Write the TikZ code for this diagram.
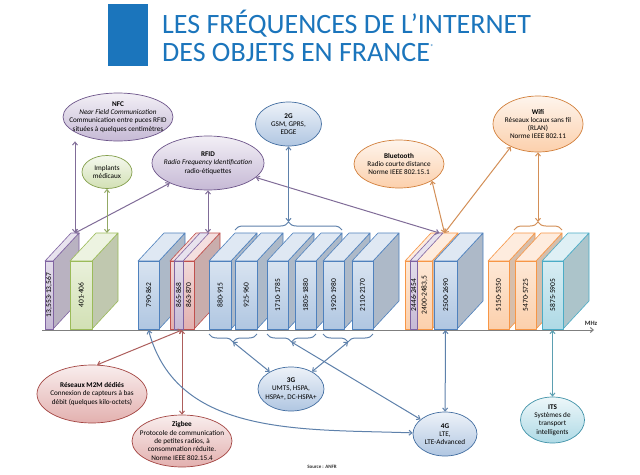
\documentclass[tikz,border=0pt]{standalone}
\usepackage{fontspec}
\setmainfont{Carlito}
\newfontfamily\titlefont{Carlito}
\usetikzlibrary{shapes.geometric,arrows.meta,decorations.pathreplacing}

\definecolor{titleblue}{HTML}{1B75BC}
\definecolor{nfcC}{HTML}{8064A2}
\definecolor{medC}{HTML}{9BBB59}
\definecolor{cellC}{HTML}{4F81BD}
\definecolor{ismC}{HTML}{C0504D}
\definecolor{wlanC}{HTML}{F79646}
\definecolor{itsC}{HTML}{4BACC6}
\definecolor{axisC}{HTML}{7F7F7F}

\tikzset{
        bandfront/.style={draw=#1, top color=#1!22!white, bottom color=#1!45!white, line width=0.6pt, line join=round},
        bandtop/.style={draw=#1, fill=#1!18!white, line width=0.6pt, line join=round},
        bandside/.style={draw=#1, fill=#1!45!gray!55!white, line width=0.6pt, line join=round},
        bandlabel/.style={rotate=90, inner sep=0pt, font=\fontsize{7.5}{7.5}\selectfont},
        bubble/.style={ellipse, draw=#1!85!black, line width=0.7pt, top color=#1!10!white, bottom color=#1!45!white, inner sep=0pt},
        btext/.style={align=center, inner sep=0pt, font=\fontsize{7.2}{8.3}\selectfont},
        link/.style={<->, >={Straight Barb[length=3pt,width=5pt]}, draw=#1!70!gray, line width=1pt},
        freqbrace/.style={decorate, decoration={brace, amplitude=8pt}, draw=#1!70!gray, line width=1pt}
}

\newcommand\FreqBand[4]{%
        \draw[bandside=#3] (#1+#2,-261) -- ++(26,28) -- ++(0,-68) -- (#1+#2,-329) -- cycle;
        \draw[bandtop=#3] (#1,-261) -- ++(26,28) -- ++(#2,0) -- (#1+#2,-261) -- cycle;
        \draw[bandfront=#3] (#1,-329) rectangle (#1+#2,-261);
        \coordinate (#4top) at (#1+#2/2+26,-233);
        \coordinate (#4bot) at (#1+#2/2,-330);}

\newcommand\FreqInset[4]{%
        \draw[bandtop=#3] (#1,-261) -- ++(26,28) -- ++(#2,0) -- (#1+#2,-261) -- cycle;
        \draw[bandfront=#3] (#1,-329) rectangle (#1+#2,-261);
        \coordinate (#4top) at (#1+#2/2+26,-233);}

\begin{document}
\begin{tikzpicture}[x=1pt,y=1pt]
        \useasboundingbox (0,0) rectangle (640,-474);
        \fill[white] (0,0) rectangle (640,-474);
        \fill[titleblue] (108,-4) rectangle (148,-66);
        \node[anchor=base west, inner sep=0pt, text=titleblue, font={\titlefont\fontsize{28}{28}\selectfont}] (title1) at (162,-33) {LES FRÉQUENCES DE L’INTERNET};
        \node[anchor=base west, inner sep=0pt, text=titleblue, font={\titlefont\fontsize{28}{28}\selectfont}] (title2) at (162,-61) {DES OBJETS EN FRANCE\raisebox{12pt}{\fontsize{7}{7}\selectfont*}};

        \FreqBand{45}{8}{nfcC}{b13}
        \FreqBand{70}{22}{medC}{b401}
        \FreqBand{138}{21}{cellC}{b790}
        \FreqBand{170}{24}{ismC}{b863}
        \FreqInset{174}{9}{nfcC}{b865}
        \FreqBand{209}{22}{cellC}{b880}
        \FreqBand{235}{22}{cellC}{b925}
        \FreqBand{267}{21}{cellC}{b1710}
        \FreqBand{295}{21}{cellC}{b1805}
        \FreqBand{323}{21}{cellC}{b1920}
        \FreqBand{352}{21}{cellC}{b2110}
        \FreqBand{405}{27}{wlanC}{b2400}
        \FreqInset{410}{7}{nfcC}{b2446}
        \FreqBand{434}{23}{cellC}{b2500}
        \FreqBand{488}{21}{wlanC}{b5150}
        \FreqBand{515}{21}{wlanC}{b5470}
        \FreqBand{542}{21}{itsC}{b5875}

        \node[bandlabel] (l13) at (49,-295) {13,553-13,567};
        \node[bandlabel] (l401) at (81,-295) {401-406};
        \node[bandlabel] (l790) at (148.5,-295) {790-862};
        \node[bandlabel] (l865) at (178.5,-295) {865-868};
        \node[bandlabel] (l863) at (188.5,-295) {863-870};
        \node[bandlabel] (l880) at (220,-295) {880-915};
        \node[bandlabel] (l925) at (246,-295) {925-960};
        \node[bandlabel] (l1710) at (277.5,-295) {1710-1785};
        \node[bandlabel] (l1805) at (305.5,-295) {1805-1880};
        \node[bandlabel] (l1920) at (333.5,-295) {1920-1980};
        \node[bandlabel] (l2110) at (362.5,-295) {2110-2170};
        \node[bandlabel] (l2446) at (413.5,-295) {2446-2454};
        \node[bandlabel] (l2400) at (424.5,-295) {2400-2483,5};
        \node[bandlabel] (l2500) at (445.5,-295) {2500-2690};
        \node[bandlabel] (l5150) at (498.5,-295) {5150-5350};
        \node[bandlabel] (l5470) at (525.5,-295) {5470-5725};
        \node[bandlabel] (l5875) at (552.5,-295) {5875-5905};

        \draw[axisC, line width=1pt, -{Straight Barb[length=3pt,width=5pt]}] (42,-330) -- (594,-330);
        \node[font=\fontsize{6.5}{6.5}\selectfont\bfseries, text=black!80] (mhz) at (591,-323) {MHz};

        \draw[freqbrace=cellC] (235,-230) -- (342,-230);
        \draw[freqbrace=wlanC] (514,-230) -- (562,-230);
        \draw[freqbrace=cellC] (257,-334) -- (209,-334);
        \draw[freqbrace=cellC] (316,-334) -- (267,-334);
        \draw[freqbrace=cellC] (373,-334) -- (323,-334);
        \coordinate (tip2g) at (288.5,-222);
        \coordinate (tip5g) at (538,-222);
        \coordinate (tip3a) at (233,-342);
        \coordinate (tip3b) at (291.5,-342);
        \coordinate (tip3c) at (348,-342);

        \node[bubble=nfcC, minimum width=110, minimum height=48, label={[btext]center:{\textbf{NFC}\\\textit{Near Field Communication}\\Communication entre puces RFID\\situées à quelques centimètres}}] (nfc) at (118,-117) {};
        \node[bubble=medC, minimum width=50, minimum height=33, label={[btext]center:{Implants\\médicaux}}] (implant) at (107,-172) {};
        \node[bubble=nfcC, minimum width=112, minimum height=54, label={[btext]center:{\textbf{RFID}\\\textit{Radio Frequency Identification}\\radio-étiquettes}}] (rfid) at (208,-163) {};
        \node[bubble=cellC, minimum width=66, minimum height=44, label={[btext]center:{\textbf{2G}\\GSM, GPRS,\\EDGE}}] (g2) at (288.5,-124) {};
        \node[bubble=wlanC, minimum width=90, minimum height=48, label={[btext]center:{\textbf{Bluetooth}\\Radio courte distance\\Norme IEEE 802.15.1}}] (bt) at (399,-164) {};
        \node[bubble=wlanC, minimum width=90, minimum height=56, label={[btext]center:{\textbf{Wifi}\\Réseaux locaux sans fil\\(RLAN)\\Norme IEEE 802.11}}] (wifi) at (538,-124) {};
        \node[bubble=ismC, minimum width=110, minimum height=58, label={[btext]center:{\textbf{Réseaux M2M dédiés}\\Connexion de capteurs à bas\\débit (quelques kilo-octets)}}] (m2m) at (92,-394) {};
        \node[bubble=ismC, minimum width=100, minimum height=52, label={[btext]center:{\textbf{Zigbee}\\Protocole de communication\\de petites radios, à\\consommation réduite.\\Norme IEEE 802.15.4}}] (zigbee) at (182,-441) {};
        \node[bubble=cellC, minimum width=66, minimum height=44, label={[btext]center:{\textbf{3G}\\UMTS, HSPA,\\HSPA+, DC-HSPA+}}] (g3) at (291,-389) {};
        \node[bubble=cellC, minimum width=64, minimum height=44, label={[btext]center:{\textbf{4G}\\LTE,\\LTE-Advanced}}] (g4) at (445,-434) {};
        \node[bubble=itsC, minimum width=64, minimum height=46, label={[btext]center:{\textbf{ITS}\\Systèmes de\\transport\\intelligents}}] (its) at (552.5,-420) {};

        \draw[link=nfcC] (b13top) -- (b13top |- nfc.south);
        \draw[link=nfcC] (b13top) -- (rfid);
        \draw[link=medC] (b401top) -- (implant);
        \draw[link=nfcC] (b863top) -- (rfid);
        \draw[link=nfcC] (b2446top) -- (rfid);
        \draw[link=cellC] (tip2g) -- (g2);
        \draw[link=wlanC] (b2400top) -- (bt.-27);
        \draw[link=wlanC] (b2400top) -- (wifi.220);
        \draw[link=wlanC] (tip5g) -- (wifi);
        \draw[link=ismC] (b863bot) -- (m2m.80);
        \draw[link=ismC] (b863bot) -- (zigbee);
        \draw[link=cellC] (tip3a) -- (g3);
        \draw[link=cellC] (tip3c) -- (g3);
        \draw[link=cellC] (tip3b) -- (g4);
        \draw[link=cellC] (b790bot) to[out=-75, in=178] (g4);
        \draw[link=cellC] (b2500bot) -- (g4);
        \draw[link=itsC] (b5875bot) -- (its);

        \node[font=\fontsize{5}{5}\selectfont\bfseries, text=black!80] (source) at (322,-467) {Source : ANFR};
\end{tikzpicture}
\end{document}
